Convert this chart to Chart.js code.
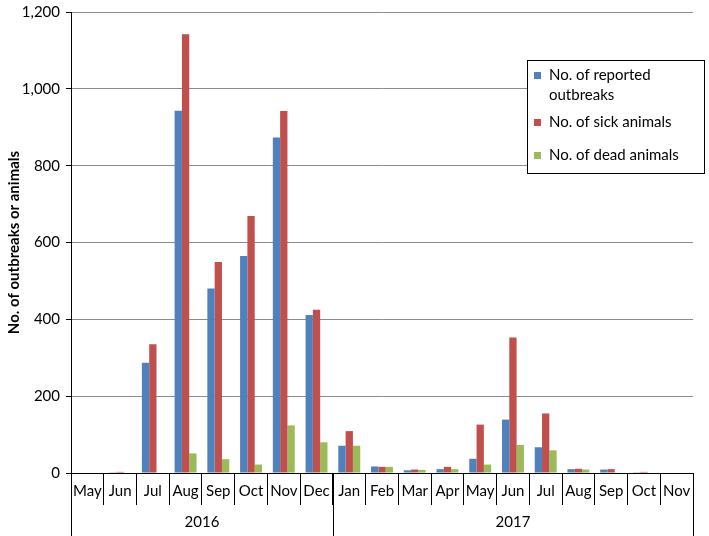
<!DOCTYPE html>
<html>
<head>
<meta charset="utf-8">
<script src="https://cdn.jsdelivr.net/npm/chart.js@4"></script>
<style>
  html, body { margin: 0; padding: 0; background: #fff; }
  #wrap { width: 709px; height: 536px; }
</style>
</head>
<body>
<div id="wrap"><canvas id="canvas" width="709" height="536"></canvas></div>
<script>
// months from May 2016 to Nov 2017
let months = ["May", "Jun", "Jul", "Aug", "Sep", "Oct", "Nov", "Dec",
  "Jan", "Feb", "Mar", "Apr", "May", "Jun", "Jul", "Aug", "Sep", "Oct", "Nov"];
let years = ["2016", "2017"];
let yearSpans = [8, 11]; // months in each year group

let outbreaks = [0, 2, 287, 943, 480, 565, 873, 411, 71, 17, 7, 10, 37, 139, 67, 10, 9, 2, 0];
let sick = [0, 3, 335, 1142, 549, 669, 942, 425, 109, 16, 9, 16, 126, 353, 155, 11, 10, 3, 0];
let dead = [0, 0, 0, 51, 36, 22, 124, 80, 71, 16, 8, 10, 22, 73, 59, 9, 1, 0, 0];

let seriesNames = [["No. of reported", "outbreaks"], ["No. of sick animals"], ["No. of dead animals"]];

let colors = {
  blue: "#4F81BD",
  red: "#C0504D",
  green: "#9BBB59",
};

let font = "Lato, 'Liberation Sans', sans-serif";
Chart.defaults.font.family = font;
Chart.defaults.font.size = 15;
Chart.defaults.color = "#000";

// draws separators under the x axis, the year row and the boxed legend
let extras = {
  id: "extras",
  afterDraw(chart) {
    let ctx = chart.ctx;
    let x = chart.scales.x;
    let area = chart.chartArea;
    let bottom = chart.height;
    let half = (x.getPixelForValue(1) - x.getPixelForValue(0)) / 2;

    ctx.save();
    ctx.strokeStyle = "#000";
    ctx.lineWidth = 1;
    // full height lines: left, year split, right
    let idx = 0;
    let edges = [x.getPixelForValue(0) - half];
    yearSpans.forEach(n => { idx += n; edges.push(x.getPixelForValue(idx - 1) + half); });
    edges.forEach(px => {
      ctx.beginPath();
      ctx.moveTo(Math.round(px) + 0.5, area.bottom);
      ctx.lineTo(Math.round(px) + 0.5, bottom);
      ctx.stroke();
    });

    // year labels
    ctx.fillStyle = "#000";
    ctx.font = "15px " + font;
    ctx.textAlign = "center";
    ctx.textBaseline = "middle";
    years.forEach((y, i) => {
      ctx.fillText(y, (edges[i] + edges[i + 1]) / 2, 522);
    });

    // legend
    let lx = 527, ly = 60, lw = 177, lh = 113;
    ctx.fillStyle = "#fff";
    ctx.fillRect(lx, ly, lw, lh);
    ctx.strokeStyle = "#000";
    ctx.strokeRect(lx + 0.5, ly + 0.5, lw, lh);
    ctx.textAlign = "left";
    let rows = [75, 122, 155];
    chart.data.datasets.forEach((ds, i) => {
      ctx.fillStyle = ds.backgroundColor;
      ctx.fillRect(lx + 7, rows[i] - 3, 7, 7);
      ctx.fillStyle = "#000";
      seriesNames[i].forEach((line, j) => {
        ctx.fillText(line, lx + 22, rows[i] + j * 20);
      });
    });
    ctx.restore();
  },
};

let ctx = document.getElementById("canvas").getContext("2d");
let chart = new Chart(ctx, {
  type: "bar",
  data: {
    labels: months,
    datasets: [
      { label: seriesNames[0].join(" "), data: outbreaks, backgroundColor: colors.blue },
      { label: seriesNames[1].join(" "), data: sick, backgroundColor: colors.red },
      { label: seriesNames[2].join(" "), data: dead, backgroundColor: colors.green },
    ],
  },
  options: {
    responsive: false,
    animation: false,
    layout: { padding: { top: 0, right: 16, bottom: 31, left: 0 } },
    datasets: {
      bar: { categoryPercentage: 0.67, barPercentage: 1.0 },
    },
    plugins: {
      legend: { display: false },
      tooltip: { enabled: false },
    },
    scales: {
      x: {
        grid: {
          offset: true,
          drawOnChartArea: false,
          tickLength: 32,
          color: "#000",
        },
        border: { color: "#000" },
        ticks: { padding: -23, maxRotation: 0, autoSkip: false },
        afterFit(scale) { scale.height = 32; },
      },
      y: {
        min: 0,
        max: 1200,
        ticks: {
          stepSize: 200,
          padding: 6,
          callback: v => v.toLocaleString("en-US"),
        },
        grid: { color: "#8c8c8c", tickLength: 5, tickColor: "#000" },
        border: { color: "#000" },
        title: {
          display: true,
          text: "No. of outbreaks or animals",
          font: { weight: "bold", size: 15 },
          padding: { top: 5, bottom: 0 },
        },
        afterFit(scale) {
          scale.width = 71;
          scale.paddingTop = 12;
        },
      },
    },
  },
  plugins: [extras],
});
</script>
</body>
</html>
